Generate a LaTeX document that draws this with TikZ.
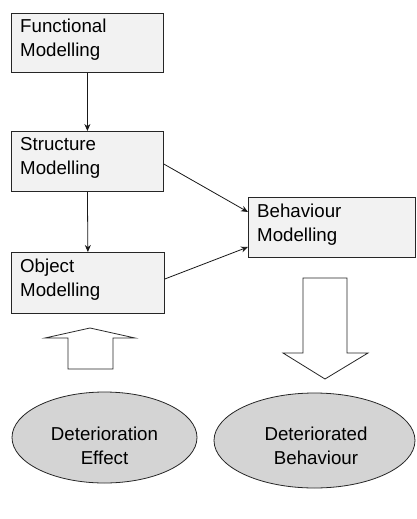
\documentclass[tikz,border=0pt]{standalone}
\usepackage{fontspec}
\setmainfont{Liberation Sans}
\usetikzlibrary{arrows.meta,shapes.geometric}
\begin{document}
\begin{tikzpicture}[x=1pt,y=-1pt,
  every node/.style={font=\fontsize{18.7}{24}\selectfont},
  modbox/.style={draw=black!85,line width=0.8pt,fill=black!5,rectangle,inner sep=0pt,anchor=north west},
  boxtext/.style={anchor=north west,inner sep=0pt,align=left},
  oval/.style={draw=black!85,line width=0.8pt,fill=black!17,ellipse,inner sep=0pt},
  ovaltext/.style={align=center,inner sep=0pt},
  conn/.style={draw=black!90,line width=0.8pt,-{Stealth[length=7pt,width=6pt]}},
  blockarrow/.style={draw=black!85,line width=0.8pt,fill=white,line join=miter}]
\useasboundingbox (0,0) rectangle (416,519);
% boxes
\node[modbox,minimum width=152pt,minimum height=59pt] (fun) at (11,13) {};
\node[modbox,minimum width=152pt,minimum height=60pt] (str) at (11,131) {};
\node[modbox,minimum width=153pt,minimum height=61pt] (obj) at (11,252) {};
\node[modbox,minimum width=167pt,minimum height=60pt] (beh) at (248,197) {};
\node[boxtext] (funt) at (20,19) {Functional\\Modelling};
\node[boxtext] (strt) at (20,137) {Structure\\Modelling};
\node[boxtext] (objt) at (20,259) {Object\\Modelling};
\node[boxtext] (beht) at (257,204) {Behaviour\\Modelling};
% connectors
\draw[conn] (fun.south) -- (str.north);
\draw[conn] (str.south) -- (obj.north);
\draw[conn] (str.east |- 0,164) -- (beh.west |- 0,212);
\draw[conn] (obj.east |- 0,279) -- (beh.west |- 0,247);
% block arrows
\draw[blockarrow] (68,369) -- (68,338) -- (45,338) -- (90,328) -- (135,338) -- (113,338) -- (113,369) -- cycle;
\draw[blockarrow] (303,278) -- (303,353) -- (283,353) -- (325,379) -- (368,353) -- (347,353) -- (347,278) -- cycle;
% ellipses
\node[oval,minimum width=185pt,minimum height=91pt] (def) at (104.5,437.5) {};
\node[oval,minimum width=201pt,minimum height=95pt] (dbh) at (314.5,440.5) {};
\node[ovaltext] (deft) at (104.5,446) {Deterioration\\Effect};
\node[ovaltext] (dbht) at (316,446) {Deteriorated\\Behaviour};
\end{tikzpicture}
\end{document}
